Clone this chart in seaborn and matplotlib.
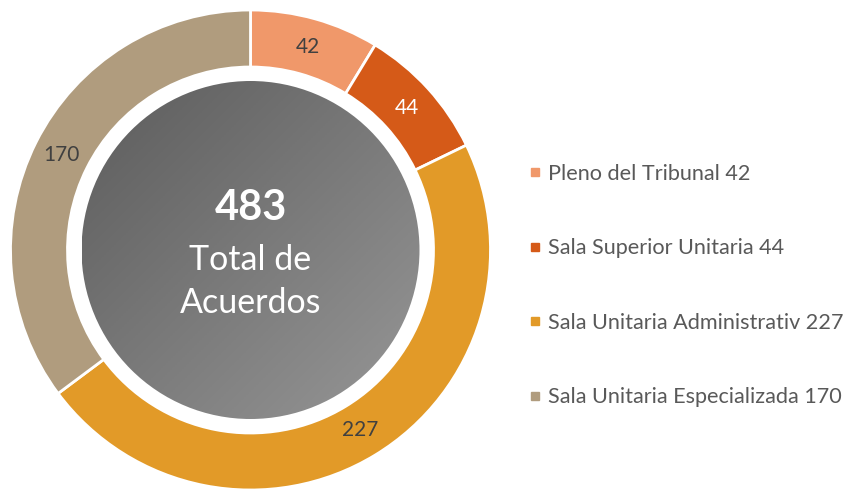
import numpy as np
import matplotlib
matplotlib.use("Agg")
import matplotlib.pyplot as plt
import seaborn as sns
from matplotlib.patches import Circle
from matplotlib.lines import Line2D

categorias = ["Pleno del Tribunal", "Sala Superior Unitaria",
              "Sala Unitaria Administrativ", "Sala Unitaria Especializada"]
acuerdos = [42, 44, 227, 170]
colores = ["#F0986A", "#D55A18", "#E29A28", "#B09C7E"]
color_etiqueta = ["#404040", "white", "#404040", "#404040"]

sns.set_theme(style="white")
plt.rcParams["font.family"] = ["Lato", "DejaVu Sans"]

total = sum(acuerdos)

fig = plt.figure(figsize=(8.52, 4.91), dpi=100)
ax = fig.add_axes([0, 0, 1, 1])

cx, cy, r = 250.5, 241, 240
wedges, _, autotexts = ax.pie(
    acuerdos, colors=colores, startangle=90, counterclock=False,
    center=(cx, cy), radius=r, autopct=lambda p: f"{round(p * total / 100)}",
    pctdistance=0.88, wedgeprops=dict(width=57, edgecolor="white", linewidth=2),
    textprops=dict(fontsize=15))
for t, c in zip(autotexts, color_etiqueta):
    t.set_color(c)

# circulo central con degradado gris (oscuro arriba-izquierda)
r_in = 169
g = np.linspace(0, 1, 200)
gx, gy = np.meshgrid(g, g)
grad = (gx + gy) / 2
img = ax.imshow(grad, cmap=sns.blend_palette(["#5C5C5C", "#979797"], as_cmap=True),
                extent=(cx - r_in, cx + r_in, cy - r_in, cy + r_in),
                origin="upper", zorder=3)
img.set_clip_path(Circle((cx, cy), r_in, transform=ax.transData))

ax.text(cx, cy + 42, str(total), ha="center", va="center", fontsize=30,
        fontweight="bold", color="white", zorder=4)
ax.text(cx, cy - 10, "Total de", ha="center", va="center", fontsize=24.5,
        color="white", zorder=4)
ax.text(cx, cy - 53, "Acuerdos", ha="center", va="center", fontsize=24.5,
        color="white", zorder=4)

handles = [Line2D([], [], marker="s", linestyle="", markersize=6, color=c)
           for c in colores]
etiquetas = [f"{n} {v}" for n, v in zip(categorias, acuerdos)]
leg = ax.legend(handles, etiquetas, loc="center left", bbox_to_anchor=(0.605, 0.4185),
                frameon=False, fontsize=15.6, labelspacing=2.52, handletextpad=0.1,
                handlelength=1.0, borderaxespad=0)
for t in leg.get_texts():
    t.set_color("#595959")

ax.set_xlim(0, 852)
ax.set_ylim(0, 491)
ax.set_aspect("equal")
ax.axis("off")

fig.savefig("out.png", dpi=100, facecolor="white")
